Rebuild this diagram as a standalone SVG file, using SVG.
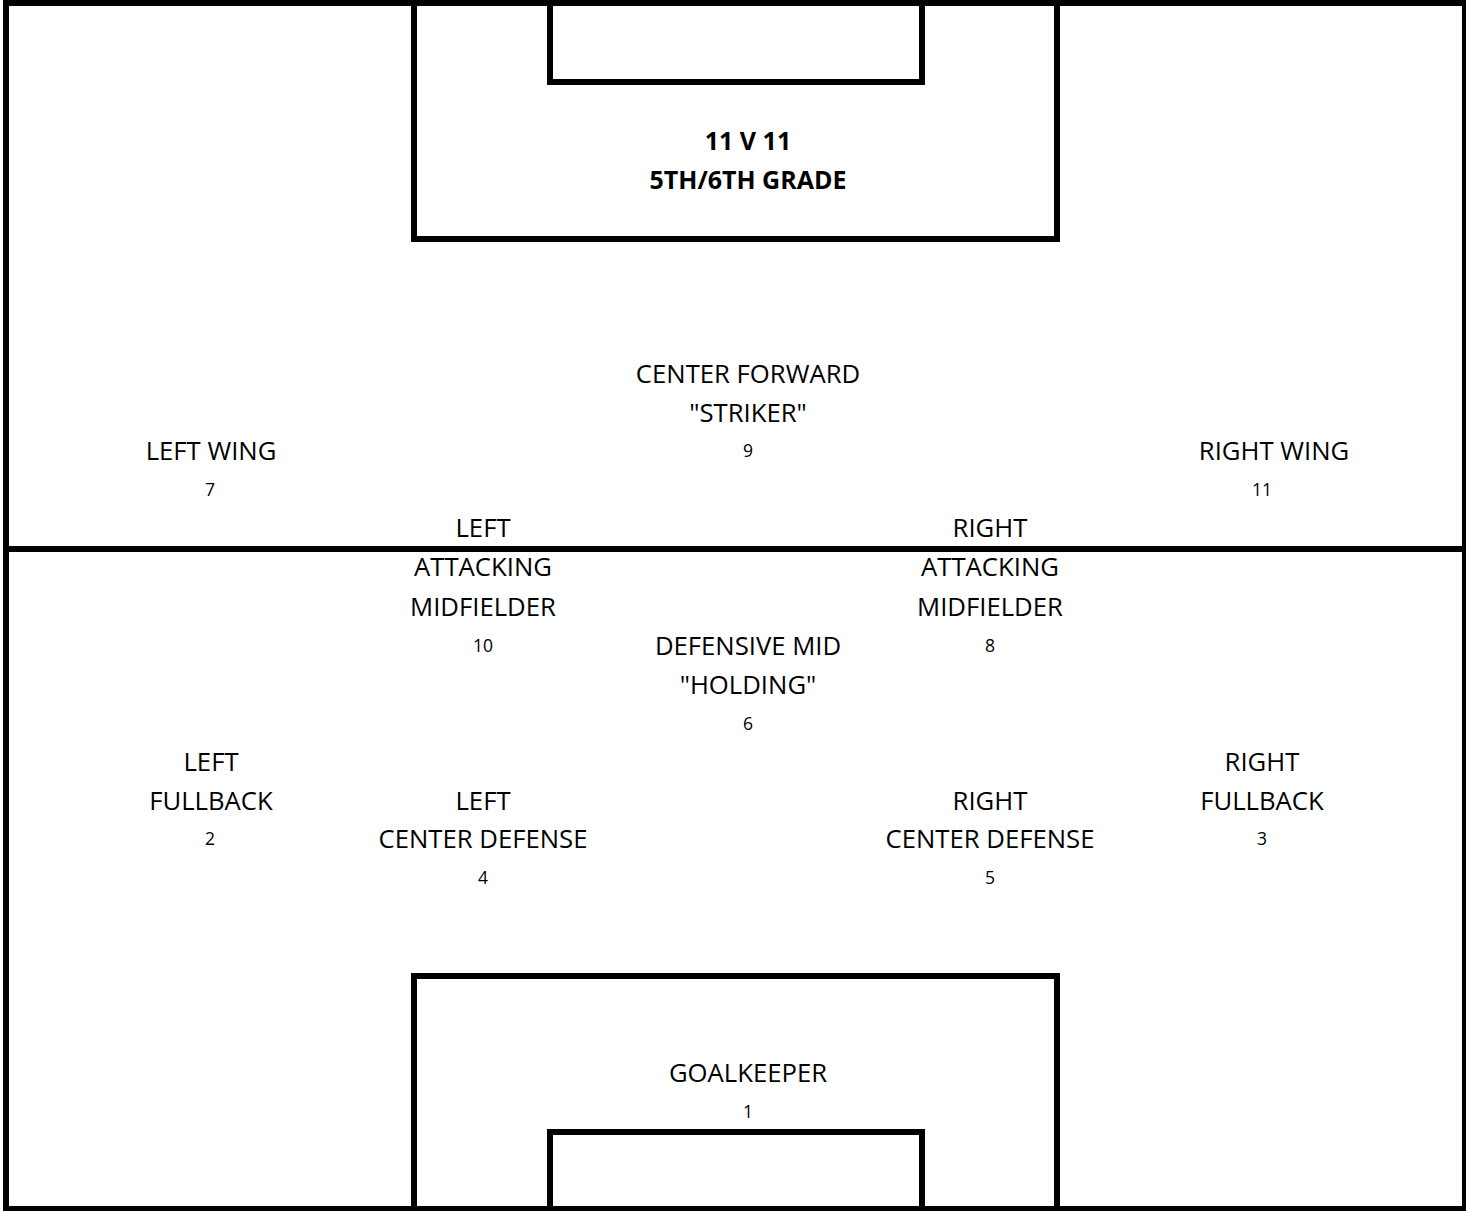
<svg xmlns="http://www.w3.org/2000/svg" width="1466" height="1211" viewBox="0 0 1466 1211">
<style>
.ln{fill:none;stroke:#000;stroke-width:6;stroke-linejoin:miter;stroke-linecap:butt}
text{font-family:"Open Sans","Liberation Sans",sans-serif;fill:#000;text-anchor:middle}
.lb{font-size:25.7px}
.nm{font-size:17.5px}
.tt{font-size:25px;font-weight:bold}
</style>
<rect width="1466" height="1211" fill="#fff"/>
<g id="field">
<rect class="ln" x="6" y="3" width="1459" height="1206"/>
<line class="ln" x1="6" y1="549" x2="1465" y2="549"/>
<path class="ln" d="M414,0 V239 H1057 V0"/>
<path class="ln" d="M550,0 V82 H922 V0"/>
<path class="ln" d="M414,1211 V976 H1057 V1211"/>
<path class="ln" d="M550,1211 V1132 H922 V1211"/>
</g>
<g id="connectors"></g>
<g id="title"><text class="tt" x="748" y="150">11 V 11</text><text class="tt" x="748" y="189">5TH/6TH GRADE</text></g>
<g id="n9"><text class="lb" x="748" y="383">CENTER FORWARD</text><text class="lb" x="748" y="422">"STRIKER"</text><text class="nm" x="748" y="457">9</text></g>
<g id="n7"><text class="lb" x="211" y="460">LEFT WING</text><text class="nm" x="210" y="496">7</text></g>
<g id="n11"><text class="lb" x="1274" y="460">RIGHT WING</text><text class="nm" x="1262" y="496">11</text></g>
<g id="n10"><text class="lb" x="483" y="537">LEFT</text><text class="lb" x="483" y="576">ATTACKING</text><text class="lb" x="483" y="616">MIDFIELDER</text><text class="nm" x="483" y="652">10</text></g>
<g id="n8"><text class="lb" x="990" y="537">RIGHT</text><text class="lb" x="990" y="576">ATTACKING</text><text class="lb" x="990" y="616">MIDFIELDER</text><text class="nm" x="990" y="652">8</text></g>
<g id="n6"><text class="lb" x="748" y="655">DEFENSIVE MID</text><text class="lb" x="748" y="694">"HOLDING"</text><text class="nm" x="748" y="730">6</text></g>
<g id="n2"><text class="lb" x="211" y="771">LEFT</text><text class="lb" x="211" y="810">FULLBACK</text><text class="nm" x="210" y="845">2</text></g>
<g id="n3"><text class="lb" x="1262" y="771">RIGHT</text><text class="lb" x="1262" y="810">FULLBACK</text><text class="nm" x="1262" y="845">3</text></g>
<g id="n4"><text class="lb" x="483" y="810">LEFT</text><text class="lb" x="483" y="848">CENTER DEFENSE</text><text class="nm" x="483" y="884">4</text></g>
<g id="n5"><text class="lb" x="990" y="810">RIGHT</text><text class="lb" x="990" y="848">CENTER DEFENSE</text><text class="nm" x="990" y="884">5</text></g>
<g id="n1"><text class="lb" x="748" y="1082">GOALKEEPER</text><text class="nm" x="748" y="1118">1</text></g>
</svg>
